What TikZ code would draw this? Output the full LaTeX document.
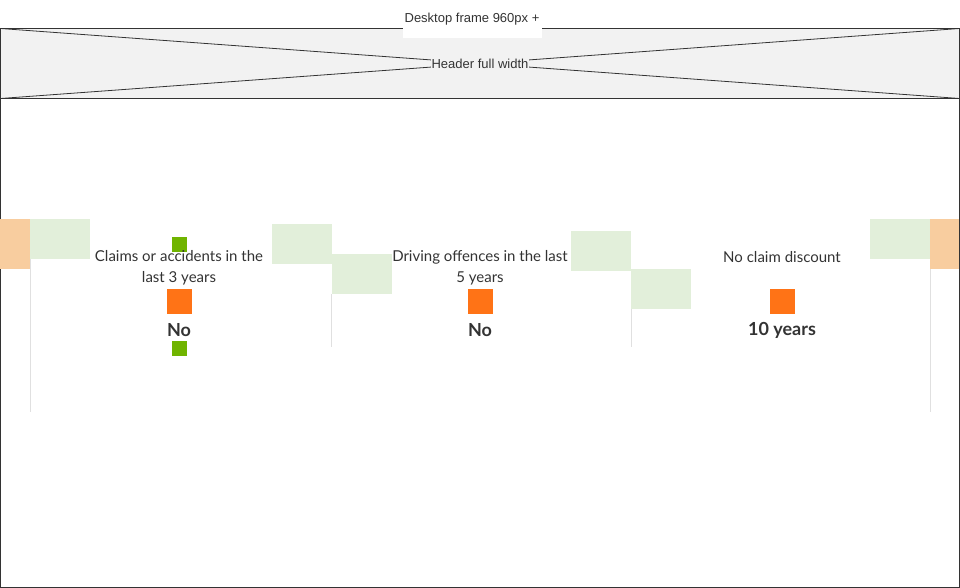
\documentclass[tikz,border=0pt]{standalone}
\usepackage{fontspec}
\setmainfont{Lato}
\newfontfamily\arialfont{Liberation Sans}
\definecolor{framegray}{HTML}{333333}
\definecolor{headfill}{HTML}{F2F2F2}
\definecolor{paleorange}{HTML}{F8CD9F}
\definecolor{palegreen}{HTML}{E2EFDA}
\definecolor{dotgreen}{HTML}{70B400}
\definecolor{boxorange}{HTML}{FF7316}
\definecolor{colline}{HTML}{E0E0E0}
\definecolor{textgray}{HTML}{333333}
\tikzset{
  wirelabel/.style={font=\arialfont\fontsize{13}{15}\selectfont, text=textgray, inner sep=1pt},
  question/.style={font=\fontsize{15}{21}\selectfont, text=textgray, align=center, inner sep=0pt},
  answer/.style={font=\bfseries\fontsize{18}{21}\selectfont, text=textgray, inner sep=0pt},
  orangebox/.style={fill=boxorange, minimum size=25pt, inner sep=0pt},
  greendot/.style={fill=dotgreen, minimum size=15pt, inner sep=0pt}
}
\begin{document}
\begin{tikzpicture}[x=1pt, y=-1pt]
\useasboundingbox (0,0) rectangle (960,588);

% frame and header
\draw[framegray, line width=0.8pt] (0.5,28.5) rectangle (959.5,587.5);
\draw[framegray, line width=0.8pt, fill=headfill] (0.5,28.5) rectangle (959.5,98.5);
\draw[framegray, line width=0.8pt] (0.5,28.5) -- (959.5,98.5);
\draw[framegray, line width=0.8pt] (0.5,98.5) -- (959.5,28.5);
\node[wirelabel, fill=headfill] (header) at (480,63.5) {Header full width};
\node[wirelabel, fill=white, minimum width=139pt, minimum height=38pt] (desktop) at (472,19.5) {Desktop frame 960px +};

% side blocks
\fill[paleorange] (0,219) rectangle (30,269);
\fill[paleorange] (930,219) rectangle (958.5,269);
\foreach \a/\b in {30/219, 272/224, 332/254, 571/231, 631/269, 870/219} {\fill[palegreen] (\a,\b) rectangle ++(60,40);}

% column separators
\foreach \a/\b/\c in {30.5/259/412, 331.5/294/347, 631.5/309/347, 930.5/269/412} {\draw[colline] (\a,\b) -- (\a,\c);}

% claims
\node[greendot] (claimstop) at (179.5,244.5) {};
\node[question] (claims) at (179,268) {Claims or accidents in the\\last 3 years};
\node[orangebox] (claimsbox) at (179.5,301.5) {};
\node[answer] (claimsval) at (179,330) {No};
\node[greendot] (claimsbot) at (179.5,348.5) {};

% offences
\node[question] (offences) at (480,268) {Driving offences in the last\\5 years};
\node[orangebox] (offencesbox) at (480.5,301.5) {};
\node[answer] (offencesval) at (480,330) {No};

% discount
\node[question] (discount) at (782,257.5) {No claim discount};
\node[orangebox] (discountbox) at (782.5,301.5) {};
\node[answer] (discountval) at (782,330) {10 years};
\end{tikzpicture}
\end{document}
